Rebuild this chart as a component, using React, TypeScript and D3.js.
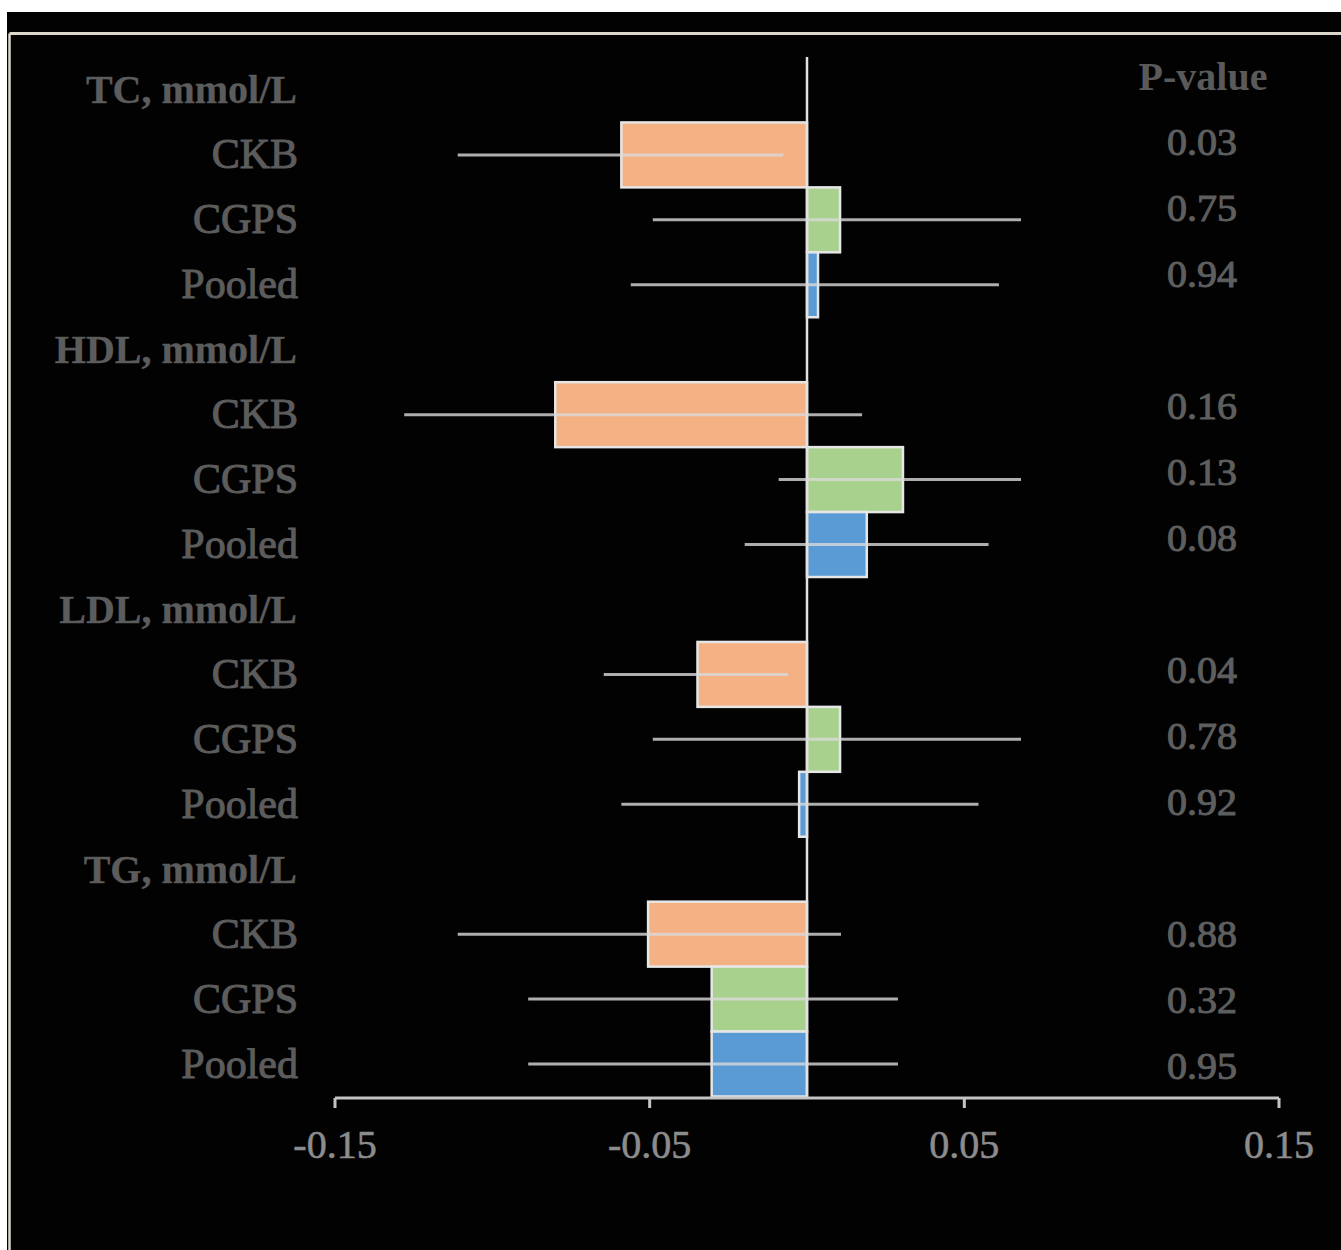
import React from "react";
import * as d3 from "d3";

const groups = ["TC, mmol/L", "HDL, mmol/L", "LDL, mmol/L", "TG, mmol/L"];
const cohorts = ["CKB", "CGPS", "Pooled"];
const cohortColors = ["#F4B183", "#A9D18E", "#5B9BD5"];

const tcEst = [-0.059, 0.0105, 0.0035];
const tcLow = [-0.111, -0.049, -0.056];
const tcHigh = [-0.0075, 0.068, 0.061];
const hdlEst = [-0.08, 0.0305, 0.019];
const hdlLow = [-0.128, -0.009, -0.0198];
const hdlHigh = [0.0175, 0.068, 0.0577];
const ldlEst = [-0.0348, 0.0105, -0.0025];
const ldlLow = [-0.0646, -0.049, -0.059];
const ldlHigh = [-0.006, 0.068, 0.0545];
const tgEst = [-0.0505, -0.0303, -0.0303];
const tgLow = [-0.111, -0.0886, -0.0886];
const tgHigh = [0.0108, 0.0289, 0.0289];

const pValues = ["0.03", "0.75", "0.94", "0.16", "0.13", "0.08", "0.04", "0.78", "0.92", "0.88", "0.32", "0.95"];
const xTicks = [-0.15, -0.05, 0.05, 0.15];
const xTickLabels = ["-0.15", "-0.05", "0.05", "0.15"];

const estAll = [tcEst, hdlEst, ldlEst, tgEst];
const lowAll = [tcLow, hdlLow, ldlLow, tgLow];
const highAll = [tcHigh, hdlHigh, ldlHigh, tgHigh];

type Row = { id: string; label: string; header: boolean; est?: number; low?: number; high?: number; color?: string };

const rows: Row[] = [];
groups.forEach((g, gi) => {
  rows.push({ id: `h${gi}`, label: g, header: true });
  cohorts.forEach((c, ci) => {
    rows.push({
      id: `r${gi}_${ci}`,
      label: c,
      header: false,
      est: estAll[gi][ci],
      low: lowAll[gi][ci],
      high: highAll[gi][ci],
      color: cohortColors[ci],
    });
  });
});

const W = 1341;
const H = 1250;
const FONT = "'Liberation Serif', 'Times New Roman', serif";

export default function App() {
  const x = d3.scaleLinear().domain([-0.15, 0.15]).range([335, 1279]);
  const y = d3.scaleBand<string>().domain(rows.map((r) => r.id)).range([57.5, 1096.5]).padding(0);
  const yP = d3.scalePoint<string>().domain(rows.map((r) => r.id)).range([76, 1066]);
  const dataRows = rows.filter((r) => !r.header);
  const axisY = 1098;
  const x0 = x(0);

  return (
    <svg width={W} height={H} style={{ position: "absolute", left: 0, top: 0, display: "block" }} fontFamily={FONT}>
      <rect x={0} y={0} width={W} height={H} fill="#ffffff" />
      <rect x={7} y={12} width={W - 7} height={H - 12} fill="#020203" />
      <line x1={9.5} y1={33.5} x2={W} y2={33.5} stroke="#ddd8cc" strokeWidth={3} />
      <line x1={9.5} y1={33.5} x2={9.5} y2={H} stroke="#ddd8cc" strokeWidth={2.5} />

      {/* bars */}
      {dataRows.map((r) => {
        const xa = x(Math.min(0, r.est!));
        const xb = x(Math.max(0, r.est!));
        return (
          <rect
            key={r.id + "b"}
            x={xa}
            y={y(r.id)!}
            width={xb - xa}
            height={y.bandwidth()}
            fill={r.color}
            stroke="#e6e6e6"
            strokeWidth={2.5}
          />
        );
      })}

      {/* zero line */}
      <line x1={x0} y1={57} x2={x0} y2={axisY} stroke="#e2e2e2" strokeWidth={2.5} />

      {/* whiskers */}
      {dataRows.map((r) => {
        const cy = y(r.id)! + y.bandwidth() / 2;
        return (
          <line
            key={r.id + "w"}
            x1={x(r.low!)}
            x2={x(r.high!)}
            y1={cy}
            y2={cy}
            stroke="#d9d9d9"
            strokeOpacity={0.8}
            strokeWidth={3}
          />
        );
      })}

      {/* axis */}
      <line x1={x(-0.15)} x2={x(0.15)} y1={axisY} y2={axisY} stroke="#c4c4c4" strokeWidth={3} />
      {xTicks.map((t, i) => (
        <g key={"t" + i}>
          <line x1={x(t)} x2={x(t)} y1={axisY} y2={axisY + 10} stroke="#c4c4c4" strokeWidth={3} />
          <text
            x={x(t)}
            y={1158}
            textAnchor="middle"
            fontSize={40}
            fill="#8c8c8c"
            stroke="#8c8c8c"
            strokeWidth={0.6}
          >
            {xTickLabels[i]}
          </text>
        </g>
      ))}

      {/* row labels */}
      {rows.map((r) => {
        const cy = y(r.id)! + y.bandwidth() / 2;
        return (
          <text
            key={r.id + "l"}
            x={r.header ? 297 : 298}
            y={cy + 13.5}
            textAnchor="end"
            fontSize={r.header ? 40 : 42}
            fontWeight={r.header ? "bold" : "normal"}
            fill="#5c5c5c"
            stroke="#5c5c5c"
            strokeWidth={r.header ? 0.3 : 1}
          >
            {r.label}
          </text>
        );
      })}

      {/* p-values */}
      <text x={1203} y={yP("h0")! + 13.5} textAnchor="middle" fontSize={40} fontWeight="bold" fill="#5a5a5a">
        P-value
      </text>
      {dataRows.map((r, i) => (
        <text
          key={r.id + "p"}
          x={1202}
          y={yP(r.id)! + 13}
          textAnchor="middle"
          fontSize={37}
          fill="#5e5e5e"
          stroke="#5e5e5e"
          strokeWidth={1}
          textLength={70}
          lengthAdjust="spacingAndGlyphs"
        >
          {pValues[i]}
        </text>
      ))}
    </svg>
  );
}
